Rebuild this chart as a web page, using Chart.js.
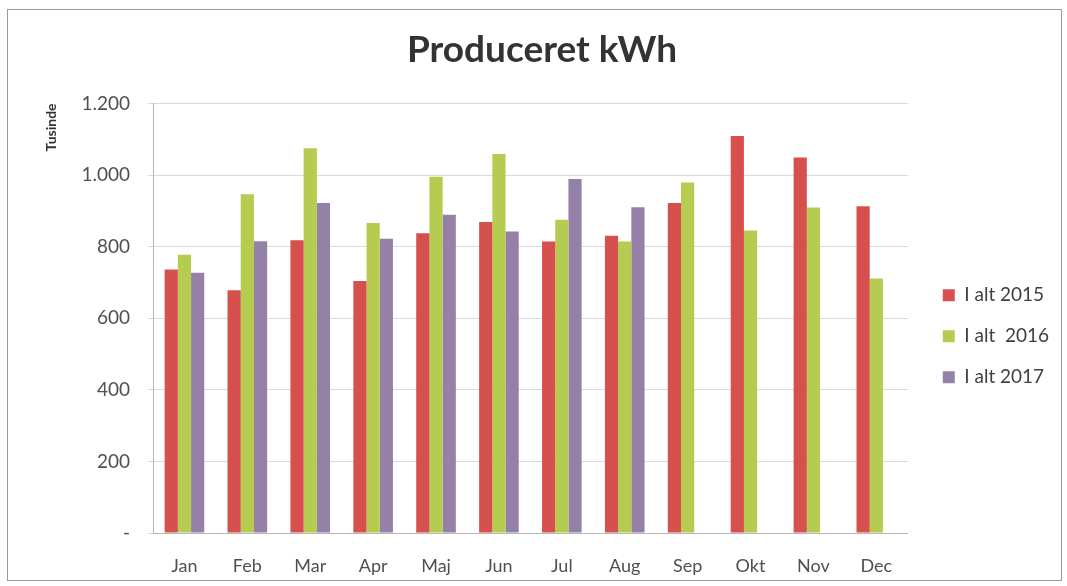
<!DOCTYPE html>
<html>
<head>
<meta charset="utf-8">
<script src="https://cdn.jsdelivr.net/npm/chart.js@4"></script>
<style>
  html, body { margin: 0; padding: 0; background: #fff; }
  #frame {
    position: absolute; left: 7px; top: 9px; width: 1055px; height: 572px;
    border: 1px solid #9a9a9a; box-sizing: border-box; pointer-events: none;
  }
  #wrap { position: absolute; left: 0; top: 0; width: 1067px; height: 586px; }
</style>
</head>
<body>
<div id="wrap"><canvas id="chart" width="1067" height="586"></canvas></div>
<div id="frame"></div>
<script>
// --- DATA ---
const months = ['Jan', 'Feb', 'Mar', 'Apr', 'Maj', 'Jun', 'Jul', 'Aug', 'Sep', 'Okt', 'Nov', 'Dec'];
const alt2015 = [736, 678, 818, 704, 837, 869, 814, 830, 922, 1109, 1049, 913];
const alt2016 = [777, 946, 1075, 866, 995, 1059, 875, 814, 979, 845, 909, 711];
const alt2017 = [727, 815, 922, 822, 889, 842, 989, 910, null, null, null, null];
const seriesNames = ['I alt 2015', 'I alt  2016', 'I alt 2017'];
const yTicks = [0, 200, 400, 600, 800, 1000, 1200];

const colors = ['#d6504e', '#b5cc50', '#9581a8'];
const fontFamily = 'Lato, "Open Sans", sans-serif';

function fmt(v) {
    if (v === 0) return '-';
    return v.toLocaleString('da-DK');
}

const ctx = document.getElementById('chart').getContext('2d');
new Chart(ctx, {
    type: 'bar',
    data: {
        labels: months,
        datasets: [alt2015, alt2016, alt2017].map((d, i) => ({
            label: seriesNames[i],
            data: d,
            backgroundColor: colors[i],
            borderWidth: 0,
            categoryPercentage: 0.63,
            barPercentage: 1.0
        }))
    },
    options: {
        responsive: false,
        animation: false,
        layout: { padding: { left: 25, right: 8, top: 0, bottom: 0 } },
        plugins: {
            title: {
                display: true,
                text: 'Produceret kWh',
                color: '#333333',
                font: { family: fontFamily, size: 37, weight: 'bold' },
                padding: { top: 28, bottom: 31 }
            },
            legend: {
                position: 'right',
                fullSize: false,
                title: {
                    display: true,
                    text: ' ',
                    font: { size: 10 },
                    padding: { top: 0, bottom: 24 }
                },
                labels: {
                    color: '#404040',
                    font: { family: fontFamily, size: 19 },
                    boxWidth: 12,
                    boxHeight: 12,
                    padding: 22
                }
            },
            tooltip: { enabled: false }
        },
        scales: {
            x: {
                grid: { display: false, drawTicks: false },
                border: { display: true, color: '#b5b5b5' },
                afterFit: (scale) => { scale.height = 53; },
                ticks: {
                    color: '#505050',
                    font: { family: fontFamily, size: 18 },
                    padding: 22
                }
            },
            y: {
                min: 0,
                max: 1200,
                afterBuildTicks: (scale) => {
                    scale.ticks = yTicks.map(v => ({ value: v }));
                },
                afterFit: (scale) => { scale.width = 128; },
                grid: { color: '#dadada', tickLength: 5 },
                border: { display: true, color: '#b5b5b5' },
                ticks: {
                    color: '#505050',
                    font: { family: fontFamily, size: 19 },
                    padding: 18,
                    callback: (v) => fmt(v)
                },
                title: {
                    display: true,
                    text: 'Tusinde',
                    align: 'end',
                    color: '#333333',
                    font: { family: fontFamily, size: 14, weight: 'bold' },
                    padding: { top: 18, bottom: 0 }
                }
            },
            gap: {
                position: 'right',
                display: true,
                afterFit: (scale) => { scale.width = 13; },
                grid: { display: false, drawTicks: false },
                border: { display: false },
                ticks: { display: false }
            }
        }
    }
});
</script>
</body>
</html>
